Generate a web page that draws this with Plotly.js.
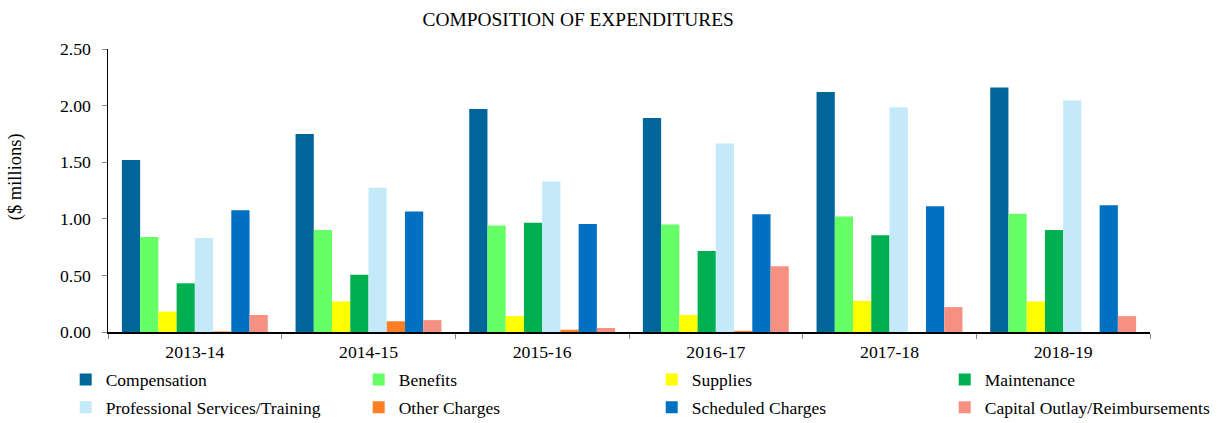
<!DOCTYPE html>
<html>
<head>
<meta charset="utf-8">
<script src="https://cdn.plot.ly/plotly-3.0.1.min.js"></script>
<style>
  body { margin: 0; background: #fff; }
  #chart { width: 1225px; height: 423px; }
</style>
</head>
<body>
<div id="chart"></div>
<script>
// fiscal years on the x axis
const years = ['2013-14', '2014-15', '2015-16', '2016-17', '2017-18', '2018-19'];

// expenditures in $ millions
const compensation = [1.52, 1.75, 1.97, 1.89, 2.12, 2.16];
const benefits = [0.84, 0.90, 0.94, 0.95, 1.02, 1.045];
const supplies = [0.18, 0.27, 0.14, 0.15, 0.275, 0.27];
const maintenance = [0.43, 0.505, 0.965, 0.715, 0.855, 0.90];
const professional = [0.83, 1.275, 1.33, 1.665, 1.985, 2.045];
const otherCharges = [0.005, 0.095, 0.02, 0.01, 0, 0];
const scheduled = [1.075, 1.065, 0.955, 1.04, 1.11, 1.12];
const capital = [0.15, 0.105, 0.035, 0.58, 0.22, 0.14];

const seriesNames = ['Compensation', 'Benefits', 'Supplies', 'Maintenance',
  'Professional Services/Training', 'Other Charges', 'Scheduled Charges',
  'Capital Outlay/Reimbursements'];
const seriesValues = [compensation, benefits, supplies, maintenance,
  professional, otherCharges, scheduled, capital];
const seriesColors = ['#006699', '#66ff66', '#ffff00', '#00b050',
  '#c4eaf9', '#ff7f27', '#0070c0', '#f69080'];

// each legend entry gets its own legend box so the columns line up like the original
const legendX = [-0.0406, 0.2406, 0.5218, 0.803];
const legendY = [-0.168, -0.266];

const font = 'Liberation Serif, Times New Roman, serif';

const traces = seriesNames.map((name, i) => ({
  type: 'bar',
  name: name,
  x: years,
  y: seriesValues[i],
  marker: { color: seriesColors[i] },
  legend: i === 0 ? 'legend' : 'legend' + (i + 1),
  hoverinfo: 'x+y+name'
}));

const layout = {
  width: 1225,
  height: 423,
  margin: { l: 108, r: 75, t: 49, b: 91, autoexpand: false },
  paper_bgcolor: '#fff',
  plot_bgcolor: '#fff',
  font: { family: font, size: 17.5, color: '#000' },
  title: {
    text: 'COMPOSITION OF EXPENDITURES',
    font: { family: font, size: 19.4, color: '#000' },
    x: 0.472, xref: 'container', xanchor: 'center',
    y: 0.955, yref: 'container', yanchor: 'middle'
  },
  barmode: 'group',
  bargap: 0.16,
  bargroupgap: 0,
  xaxis: {
    type: 'category',
    showline: true, linecolor: '#000', linewidth: 1.5,
    ticks: 'outside', tickson: 'boundaries', ticklen: 5, tickcolor: '#888',
    ticklabelstandoff: 3,
    showgrid: false, zeroline: false,
    tickfont: { family: font, size: 17.7 }
  },
  yaxis: {
    range: [0, 2.5], dtick: 0.5, tickformat: '.2f',
    showline: true, linecolor: '#000', linewidth: 1.5,
    ticks: 'outside', ticklen: 5, tickcolor: '#888',
    ticklabelstandoff: 7,
    showgrid: false, zeroline: false,
    tickfont: { family: font, size: 17.7 }
  },
  annotations: [{
    text: '($ millions)',
    textangle: -90,
    xref: 'paper', yref: 'paper',
    x: -0.088, y: 0.548,
    xanchor: 'center', yanchor: 'middle',
    showarrow: false,
    font: { family: font, size: 18.5, color: '#000' }
  }],
  showlegend: true
};

seriesNames.forEach((name, i) => {
  const key = i === 0 ? 'legend' : 'legend' + (i + 1);
  layout[key] = {
    x: legendX[i % 4], xanchor: 'left',
    y: legendY[Math.floor(i / 4)], yanchor: 'middle',
    bgcolor: 'rgba(0,0,0,0)',
    font: { family: font, size: 17.5, color: '#000' }
  };
});

Plotly.newPlot('chart', traces, layout, { displayModeBar: false, staticPlot: true });
</script>
</body>
</html>
